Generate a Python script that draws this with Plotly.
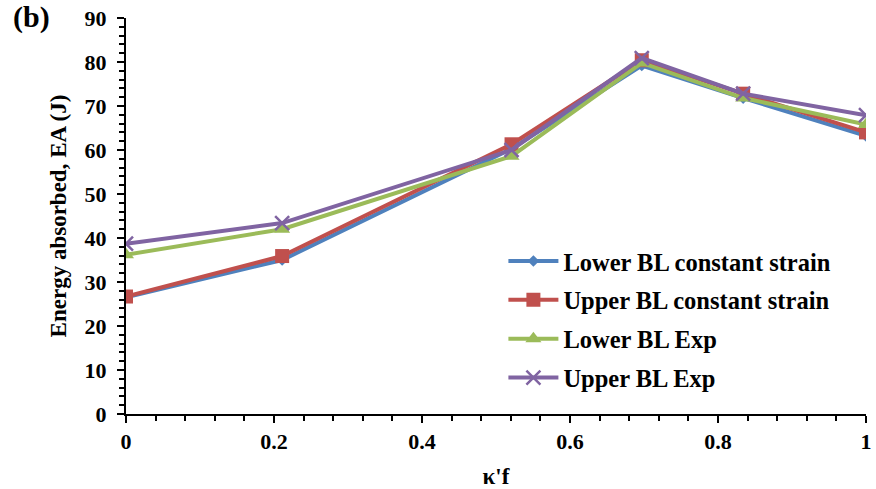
import plotly.graph_objects as go

x_vals = [0, 0.211, 0.521, 0.697, 0.834, 1.0]
lower_cs = [26.5, 35.0, 60.3, 79.2, 71.8, 63.2]
upper_cs = [26.7, 35.9, 61.3, 80.4, 72.8, 64.0]
lower_exp = [36.2, 42.0, 58.6, 79.8, 71.8, 65.8]
upper_exp = [38.7, 43.4, 60.0, 80.9, 72.8, 67.9]

names = ["Lower BL constant strain", "Upper BL constant strain", "Lower BL Exp", "Upper BL Exp"]
colors = ["#4F81BD", "#C0504D", "#9BBB59", "#8064A2"]
symbols = ["diamond", "square", "triangle-up", "x-thin"]
series = [lower_cs, upper_cs, lower_exp, upper_exp]
msizes = [9, 14, 14, 14]

font_family = "Liberation Serif, Times New Roman, serif"

fig = go.Figure()
for i, (nm, col, sym, ys, ms) in enumerate(zip(names, colors, symbols, series, msizes)):
    marker = dict(symbol=sym, size=ms, color=col)
    if sym == "x-thin":
        marker["line"] = dict(color=col, width=2.5)
    fig.add_trace(go.Scatter(
        x=x_vals, y=ys, name=nm, mode="lines+markers",
        line=dict(color=col, width=4),
        marker=marker, legendgroup=f"g{i}",
    ))

fig.update_layout(
    width=876, height=489,
    margin=dict(l=126, r=10, t=18, b=75),
    plot_bgcolor="white", paper_bgcolor="white",
    font=dict(family=font_family, size=18, color="black"),
    showlegend=True,
    legend=dict(
        x=0.51, y=0.443, xanchor="left", yanchor="top",
        font=dict(family=font_family, size=24.5, color="black", weight="bold"),
        bgcolor="rgba(0,0,0,0)", tracegroupgap=4, itemwidth=50,
    ),
    xaxis=dict(
        range=[0, 1], tickvals=[0, 0.2, 0.4, 0.6, 0.8, 1.0],
        ticktext=["0", "0.2", "0.4", "0.6", "0.8", "1"],
        showline=True, linecolor="black", linewidth=2,
        ticks="outside", ticklen=7, tickwidth=2, tickcolor="black",
        minor=dict(dtick=0.04, ticks="outside", ticklen=5, tickwidth=1.5, tickcolor="black"),
        showgrid=False, zeroline=False, automargin=False,
        tickfont=dict(family=font_family, size=22, weight="bold"),
        title=dict(text="κ'f", font=dict(family=font_family, size=23, weight="bold"), standoff=18),
    ),
    yaxis=dict(
        range=[0, 90], tickvals=list(range(0, 91, 10)),
        showline=True, linecolor="black", linewidth=2,
        ticks="outside", ticklen=7, tickwidth=2, tickcolor="black",
        minor=dict(dtick=2, ticks="outside", ticklen=5, tickwidth=1.5, tickcolor="black"),
        showgrid=False, zeroline=False, automargin=False,
        ticklabelstandoff=6,
        tickfont=dict(family=font_family, size=22, weight="bold"),
        title=dict(text="Energy absorbed, EA (J)", font=dict(family=font_family, size=23, weight="bold"), standoff=12),
    ),
)
fig.add_annotation(
    text="(b)", xref="paper", yref="paper", x=-0.155, y=1.05,
    xanchor="left", yanchor="top", showarrow=False,
    font=dict(family=font_family, size=30, weight="bold", color="black"),
)

fig.write_html("out.html")
